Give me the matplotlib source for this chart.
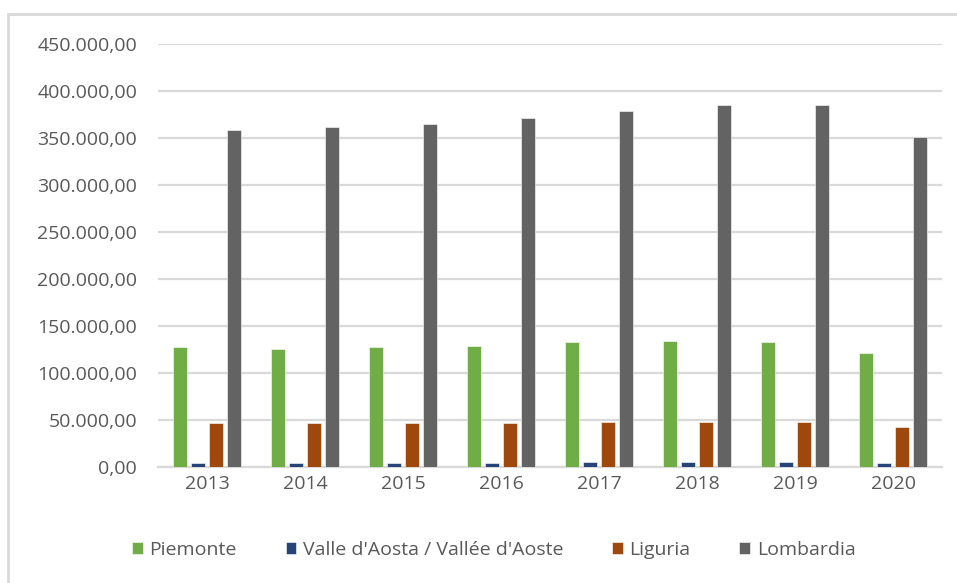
import matplotlib.pyplot as plt
import numpy as np
from matplotlib.patches import Rectangle
from matplotlib.ticker import FuncFormatter

years = ["2013", "2014", "2015", "2016", "2017", "2018", "2019", "2020"]
regions = ["Piemonte", "Valle d'Aosta / Vallée d'Aoste", "Liguria", "Lombardia"]
piemonte = [127500, 126000, 127500, 129000, 133000, 134000, 133000, 121000]
valle_aosta = [4700, 4700, 4700, 4700, 4800, 4800, 4800, 4300]
liguria = [46800, 46800, 46800, 46800, 48000, 48000, 48000, 42500]
lombardia = [358500, 361500, 365000, 371000, 378500, 385000, 385000, 351000]
colors = ["#70ad47", "#264478", "#9e480e", "#636363"]

series = [piemonte, valle_aosta, liguria, lombardia]

fig = plt.figure(figsize=(9.57, 5.83), dpi=100)
plt.rcParams['font.family'] = ['Open Sans', 'DejaVu Sans']

# light chart-area frame
fig.patches.append(Rectangle((8 / 957, -0.1), 1.0, 1 - 14 / 583 + 0.1,
                             transform=fig.transFigure, fill=False,
                             edgecolor="#d9d9d9", linewidth=2))

ax = fig.add_axes([158 / 957, 1 - 467 / 583, 784 / 957, 423 / 583])

x = np.arange(len(years))
width = 0.15
step = 0.183
for i, (vals, name, c) in enumerate(zip(series, regions, colors)):
    ax.bar(x + (i - 1.5) * step, vals, width, color=c, label=name,
           edgecolor="white", linewidth=0.4, zorder=3)

ax.set_xlim(-0.5, len(years) - 0.5)
ax.set_ylim(0, 450000)
ax.set_yticks(np.arange(0, 450001, 50000))
fmt = lambda v, p: f"{v:,.2f}".replace(",", "X").replace(".", ",").replace("X", ".")
ax.yaxis.set_major_formatter(FuncFormatter(fmt))
ax.set_xticks(x)
ax.set_xticklabels(years)
ax.grid(axis="y", color="#d9d9d9", linewidth=1.6, zorder=0)
for s in ["top", "right", "left"]:
    ax.spines[s].set_visible(False)
ax.spines["bottom"].set_color("#d9d9d9")
ax.spines["bottom"].set_linewidth(1.6)
ax.tick_params(length=0, labelsize=14, labelcolor="#595959")
ax.tick_params(axis="y", pad=15)
ax.tick_params(axis="x", pad=6)

fig.legend(loc="center", bbox_to_anchor=(0.516, 1 - 550 / 583), ncol=4,
           frameon=False, fontsize=14, labelcolor="#595959",
           handlelength=0.55, handleheight=0.55, handletextpad=0.35,
           columnspacing=2.5)

fig.savefig("out.png", dpi=100)
